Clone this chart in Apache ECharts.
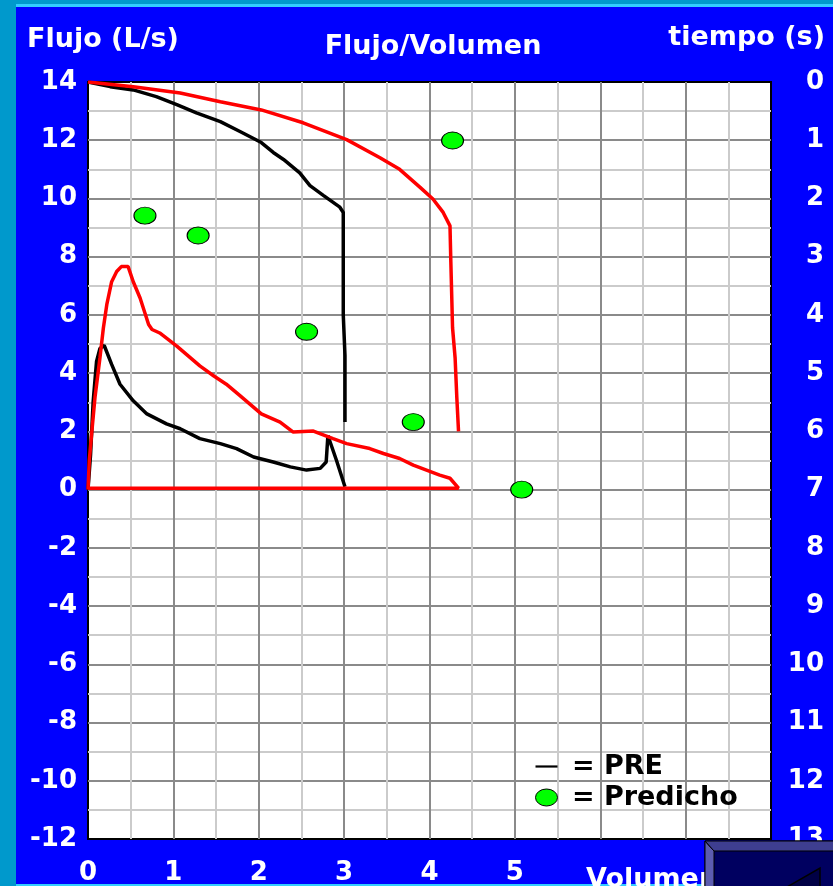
<!DOCTYPE html>
<html>
<head>
<meta charset="utf-8">
<style>
  html, body { margin: 0; padding: 0; background: #0099cc; }
  #chart { width: 833px; height: 886px; }
</style>
<script src="https://cdn.jsdelivr.net/npm/echarts@6/dist/echarts.min.js"></script>
</head>
<body>
<div id="chart"></div>
<script>
// ---- Tick labels ----
const volumeTickLabels = [0, 1, 2, 3, 4, 5];
const flowTickLabels = [-12, -10, -8, -6, -4, -2, 0, 2, 4, 6, 8, 10, 12, 14];
const timeTickLabels = [0, 1, 2, 3, 4, 5, 6, 7, 8, 9, 10, 11, 12, 13];
const volumeAxisMax = 8;

// ---- Series: [volumen (L), flujo (L/s)] ----
const preFlowVolume = [
  [0, 0], [0.03, 1.2], [0.06, 3.0], [0.1, 4.4], [0.14, 4.85], [0.19, 4.95],
  [0.277, 4.3], [0.375, 3.62], [0.53, 3.05], [0.69, 2.6], [0.92, 2.26],
  [1.08, 2.09], [1.31, 1.75], [1.55, 1.58], [1.74, 1.41], [1.94, 1.12],
  [2.17, 0.95], [2.37, 0.78], [2.56, 0.67], [2.72, 0.73], [2.79, 0.95],
  [2.81, 1.86], [2.83, 1.9], [2.91, 1.01], [3.01, 0.1]
];
const postFlowVolume = [
  [0, 0], [0.015, 1.0], [0.043, 1.92], [0.082, 3.17], [0.14, 4.53], [0.18, 5.55],
  [0.22, 6.35], [0.277, 7.14], [0.336, 7.49], [0.39, 7.66], [0.47, 7.66],
  [0.53, 7.14], [0.61, 6.58], [0.71, 5.67], [0.75, 5.5], [0.84, 5.38], [1.04, 4.93],
  [1.31, 4.25], [1.47, 3.91], [1.62, 3.62], [1.78, 3.23], [2.03, 2.6],
  [2.25, 2.32], [2.40, 1.98], [2.64, 2.01], [2.87, 1.75], [3.03, 1.58],
  [3.30, 1.41], [3.46, 1.24], [3.65, 1.07], [3.81, 0.84], [4.12, 0.50],
  [4.24, 0.39], [4.34, 0.05], [0, 0.05]
];

// ---- Series: [volumen (L), tiempo (s)] ----
const preVolumeTime = [
  [0, 0], [0.26, 0.08], [0.53, 0.136], [0.80, 0.25], [1.04, 0.39], [1.27, 0.53],
  [1.55, 0.68], [1.78, 0.85], [2.03, 1.04], [2.17, 1.21], [2.29, 1.33],
  [2.48, 1.56], [2.60, 1.78], [2.76, 1.95], [2.95, 2.15], [2.99, 2.24],
  [2.99, 4.0], [3.01, 4.7], [3.01, 5.84]
];
const postVolumeTime = [
  [0, 0], [0.53, 0.08], [1.08, 0.19], [1.55, 0.34], [2.03, 0.48], [2.52, 0.70],
  [3.03, 0.99], [3.42, 1.30], [3.65, 1.50], [3.89, 1.81], [4.04, 2.01],
  [4.16, 2.24], [4.24, 2.47], [4.25, 3.09], [4.27, 4.22], [4.30, 4.74],
  [4.32, 5.42], [4.34, 6.0]
];

// ---- Predicted values: [volumen (L), flujo (L/s)] ----
const predicho = [
  [0.667, 9.41], [1.29, 8.73], [2.56, 5.42], [3.81, 2.32], [4.27, 11.99], [5.08, 0]
];

const FONT = 'DejaVu Sans';
const labelStyle = { color: '#ffffff', fontFamily: FONT, fontWeight: 'bold', fontSize: 26 };
const headFont = 'bold 27px "DejaVu Sans"';

const chart = echarts.init(document.getElementById('chart'), null, { renderer: 'canvas' });

const option = {
  backgroundColor: '#0099cc',
  animation: false,
  title: {
    text: 'Flujo/Volumen',
    left: 428,
    top: 28,
    textAlign: 'center',
    padding: 5,
    textStyle: { color: '#ffffff', fontFamily: FONT, fontWeight: 'bold', fontSize: 27 }
  },
  grid: {
    left: 88, right: 62, top: 82, bottom: 43,
    show: true, backgroundColor: '#ffffff', borderColor: '#000000', borderWidth: 2
  },
  legend: {
    orient: 'vertical',
    left: 535, top: 753,
    padding: 0,
    itemWidth: 22, itemHeight: 17, itemGap: 4,
    formatter: ' = {name}',
    textStyle: { color: '#000000', fontFamily: FONT, fontWeight: 'bold', fontSize: 27 },
    data: [
      { name: 'PRE', icon: 'path://M0,0H20V2H0Z', itemStyle: { color: '#000000', borderWidth: 0 } },
      { name: 'Predicho', icon: 'path://M0,8.5A11,8.5 0 1 0 22,8.5A11,8.5 0 1 0 0,8.5Z',
        itemStyle: { color: '#00ff00', borderColor: '#000000', borderWidth: 1 } }
    ]
  },
  xAxis: {
    type: 'value',
    min: volumeTickLabels[0], max: volumeAxisMax, interval: 1,
    axisLine: { show: false }, axisTick: { show: false },
    axisLabel: Object.assign({
      margin: 21,
      formatter: v => volumeTickLabels.indexOf(v) >= 0 ? String(v) : ''
    }, labelStyle),
    splitLine: { show: true, showMinLine: false, showMaxLine: false, lineStyle: { color: '#8a8a8a', width: 2 } },
    minorTick: { show: false, splitNumber: 2 },
    minorSplitLine: { show: true, lineStyle: { color: '#cbcbcb', width: 2 } }
  },
  yAxis: [
    {
      type: 'value',
      min: flowTickLabels[0], max: flowTickLabels[flowTickLabels.length - 1],
      interval: flowTickLabels[1] - flowTickLabels[0],
      axisLine: { show: false }, axisTick: { show: false },
      axisLabel: Object.assign({ margin: 11 }, labelStyle),
      splitLine: { show: true, showMinLine: false, showMaxLine: false, lineStyle: { color: '#8a8a8a', width: 2 } },
      minorTick: { show: false, splitNumber: 2 },
      minorSplitLine: { show: true, lineStyle: { color: '#cbcbcb', width: 2 } }
    },
    {
      type: 'value',
      position: 'right',
      inverse: true,
      min: timeTickLabels[0], max: timeTickLabels[timeTickLabels.length - 1],
      interval: timeTickLabels[1] - timeTickLabels[0],
      axisLine: { show: false }, axisTick: { show: false },
      axisLabel: Object.assign({ margin: 53, align: 'right' }, labelStyle),
      splitLine: { show: false }
    }
  ],
  series: [
    {
      name: 'PRE', type: 'line', yAxisIndex: 0, data: preFlowVolume,
      symbol: 'none', lineStyle: { color: '#000000', width: 3.5 }, itemStyle: { color: '#000000' }
    },
    {
      name: 'PRE', type: 'line', yAxisIndex: 1, data: preVolumeTime,
      symbol: 'none', lineStyle: { color: '#000000', width: 3.5 }, itemStyle: { color: '#000000' }
    },
    {
      name: 'POST', type: 'line', yAxisIndex: 0, data: postFlowVolume,
      symbol: 'none', lineStyle: { color: '#ff0000', width: 3.5 }, itemStyle: { color: '#ff0000' }
    },
    {
      name: 'POST', type: 'line', yAxisIndex: 1, data: postVolumeTime,
      symbol: 'none', lineStyle: { color: '#ff0000', width: 3.5 }, itemStyle: { color: '#ff0000' }
    },
    {
      name: 'Predicho', type: 'scatter', yAxisIndex: 0, data: predicho, z: 5,
      symbol: 'circle', symbolSize: [22, 17],
      itemStyle: { color: '#00ff00', borderColor: '#000000', borderWidth: 1, opacity: 1 }
    }
  ],
  graphic: [
    { type: 'rect', z: -100, silent: true, shape: { x: 16, y: 7, width: 817, height: 877 }, style: { fill: '#0000ff' } },
    { type: 'rect', z: -100, silent: true, shape: { x: 16, y: 4, width: 817, height: 3 }, style: { fill: '#33ccff' } },
    { type: 'rect', z: -100, silent: true, shape: { x: 16, y: 884, width: 817, height: 2 }, style: { fill: '#33ccff' } },
    { type: 'text', z: 10, left: 27, top: 26, style: { text: 'Flujo (L/s)', fill: '#ffffff', font: headFont } },
    { type: 'text', z: 10, right: 8, top: 24, style: { text: 'tiempo (s)', fill: '#ffffff', font: headFont } },
    { type: 'text', z: 10, left: 586, top: 866, style: { text: 'Volumen', fill: '#ffffff', font: headFont } },
    // navigation button (bottom-right)
    { type: 'rect', z: 100, shape: { x: 705, y: 841, width: 130, height: 47 }, style: { fill: '#000060', stroke: '#000000', lineWidth: 1 } },
    { type: 'polygon', z: 101, shape: { points: [[705, 841], [714, 851], [714, 888], [705, 888]] }, style: { fill: '#5c5cb0', stroke: '#000000', lineWidth: 1 } },
    { type: 'polygon', z: 101, shape: { points: [[705, 841], [835, 841], [835, 851], [714, 851]] }, style: { fill: '#3e3e90', stroke: '#000000', lineWidth: 1 } },
    { type: 'polygon', z: 102, shape: { points: [[787, 887], [820, 868], [820, 887]] }, style: { fill: '#000045', stroke: '#000000', lineWidth: 1.5 } }
  ]
};

chart.setOption(option);
</script>
</body>
</html>
